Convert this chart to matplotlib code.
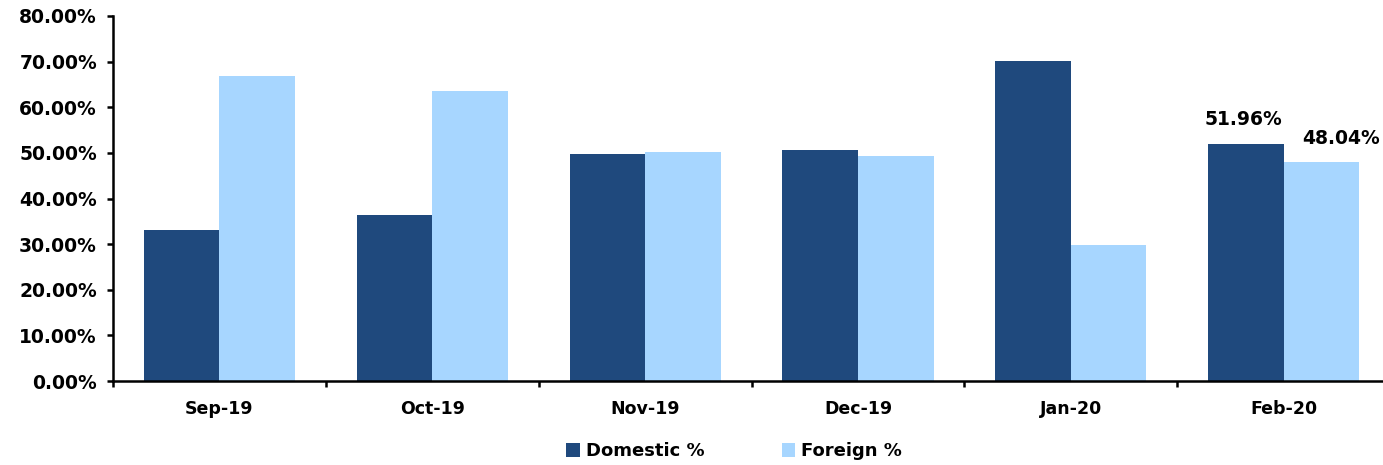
import matplotlib
matplotlib.use("Agg")
import matplotlib.pyplot as plt
import numpy as np
from matplotlib.ticker import FuncFormatter, MultipleLocator

months = ["Sep-19", "Oct-19", "Nov-19", "Dec-19", "Jan-20", "Feb-20"]
domestic = [33.2, 36.4, 49.7, 50.6, 70.1, 51.96]
foreign = [66.8, 63.6, 50.3, 49.4, 29.9, 48.04]

dark = "#1F497D"
light = "#A7D6FF"

plt.rcParams["font.family"] = ["DejaVu Sans"]
plt.rcParams["font.weight"] = "bold"

fig = plt.figure(figsize=(13.83, 4.65), dpi=100)
ax = fig.add_axes([0.0817, 0.1806, 0.9234, 0.785])

x = np.arange(len(months))
w = 0.355
b1 = ax.bar(x - w / 2, domestic, w, color=dark, label="Domestic %")
b2 = ax.bar(x + w / 2, foreign, w, color=light, label="Foreign %")

ax.set_xlim(-0.5, len(months) - 0.5)
ax.set_ylim(0, 80)
ax.yaxis.set_major_locator(MultipleLocator(10))
ax.yaxis.set_major_formatter(FuncFormatter(lambda v, p: f"{v:.2f}%"))

ax.set_xticks(x)
ax.set_xticklabels(months)
ax.set_xticks(np.arange(len(months) + 1) - 0.5, minor=True)
ax.tick_params(axis="x", which="major", length=0, pad=14, labelsize=12.5)
ax.tick_params(axis="x", which="minor", length=4.5, width=1.8, direction="out")
ax.tick_params(axis="y", length=4.5, width=1.8, direction="out", labelsize=13.5, pad=7)

for s in ["top", "right"]:
    ax.spines[s].set_visible(False)
for s in ["left", "bottom"]:
    ax.spines[s].set_linewidth(1.8)

# value labels on the latest month
i = len(months) - 1
ax.annotate(f"{domestic[i]:.2f}%", (x[i] - w / 2, domestic[i]), xytext=(-2, 11),
            textcoords="offset points", ha="center", va="bottom",
            fontsize=13.5, fontweight="bold")
ax.annotate(f"{foreign[i]:.2f}%", (x[i] + w / 2, foreign[i]), xytext=(14, 10),
            textcoords="offset points", ha="center", va="bottom",
            fontsize=13.5, fontweight="bold")

leg = fig.legend(handles=[b1, b2], loc="lower center", bbox_to_anchor=(0.531, -0.025),
                 ncol=2, frameon=False, fontsize=13, handlelength=0.75,
                 handleheight=0.75, handletextpad=0.35, columnspacing=4.25)

fig.savefig("out.png", dpi=100)
